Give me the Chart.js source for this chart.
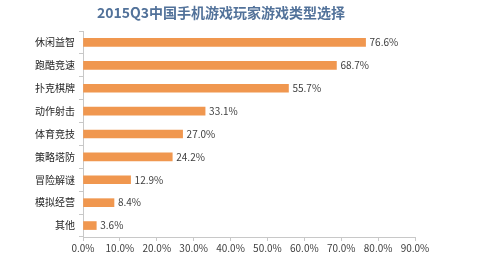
<!DOCTYPE html>
<html><head><meta charset="utf-8">
<script src="https://cdn.jsdelivr.net/npm/chart.js@4"></script>
<style>html,body{margin:0;padding:0;background:#fff}#w{width:496px;height:254px;position:relative}</style>
</head><body><div id="w"><canvas id="c" width="496" height="254"></canvas></div>
<script>
const titleText = "2015Q3中国手机游戏玩家游戏类型选择";
const categories = ["休闲益智","跑酷竞速","扑克棋牌","动作射击","体育竞技","策略塔防","冒险解谜","模拟经营","其他"];
const values = [76.6, 68.7, 55.7, 33.1, 27.0, 24.2, 12.9, 8.4, 3.6];
const xTicks = [0,10,20,30,40,50,60,70,80,90];
const FONT = "'Noto Sans CJK SC', 'Noto Sans', sans-serif";

const labelPlugin = {
  id: 'labels',
  afterDatasetsDraw(chart) {
    const ctx = chart.ctx;
    const meta = chart.getDatasetMeta(0);
    ctx.save();
    ctx.font = "10px " + FONT;
    ctx.fillStyle = "#404040";
    ctx.textBaseline = "middle";
    ctx.textAlign = "left";
    meta.data.forEach((bar, i) => {
      ctx.fillText(values[i].toFixed(1) + "%", bar.x + 4, bar.y);
    });
    ctx.restore();
  },
  afterDraw(chart) {
    const ctx = chart.ctx;
    ctx.save();
    ctx.font = "bold 14px " + FONT;
    ctx.fillStyle = "#52729a";
    ctx.textAlign = "center";
    ctx.textBaseline = "middle";
    ctx.fillText(titleText, 221, 13);
    ctx.restore();
  }
};

new Chart(document.getElementById('c'), {
  type: 'bar',
  data: {
    labels: categories,
    datasets: [{ data: values, backgroundColor: '#f0974f', barThickness: 8 }]
  },
  options: {
    indexAxis: 'y',
    responsive: false,
    animation: false,
    layout: { padding: { top: 31, right: 81, left: 0, bottom: 0 } },
    plugins: { legend: { display: false }, tooltip: { enabled: false } },
    scales: {
      x: {
        min: 0, max: 90,
        afterBuildTicks(s) { s.ticks = xTicks.map(v => ({ value: v })); },
        afterFit(s) { s.height = 17; },
        ticks: { callback: v => v.toFixed(1) + "%", font: { size: 10, family: FONT }, color: '#404040', padding: 1, maxRotation: 0 },
        grid: { drawOnChartArea: false, tickLength: 4, color: '#c8c8c8' },
        border: { color: '#c8c8c8' }
      },
      y: {
        afterFit(s) { s.width = 83; },
        ticks: { font: { size: 10, family: FONT }, color: '#262626', padding: 4 },
        grid: { drawOnChartArea: false, tickLength: 4, color: '#c8c8c8', offset: true },
        border: { color: '#c8c8c8' }
      }
    }
  },
  plugins: [labelPlugin]
});
</script>
</body></html>
